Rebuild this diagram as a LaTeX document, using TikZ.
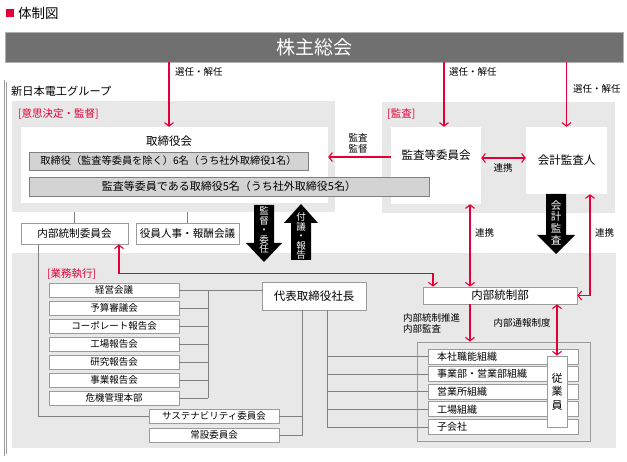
\documentclass[tikz,border=0pt]{standalone}
\usepackage{fontspec}
\setmainfont{Noto Sans CJK JP}
\usetikzlibrary{arrows.meta}

\definecolor{jred}{RGB}{228,0,55}
\definecolor{panelgray}{RGB}{232,232,232}
\definecolor{boxgray}{RGB}{211,211,211}
\definecolor{linegray}{RGB}{128,128,128}
\definecolor{framegray}{RGB}{155,155,155}
\definecolor{bargray}{RGB}{112,112,112}

\tikzset{
  panel/.style={fill=panelgray, inner sep=0pt},
  innerbox/.style={fill=white, inner sep=0pt},
  whitebox/.style={draw=framegray, fill=white, line width=0.8pt, inner sep=0pt},
  graybox/.style={draw=linegray, fill=boxgray, line width=0.8pt, inner sep=0pt, font=\fontsize{10.2}{12}\selectfont},
  itembox/.style={minimum width=130pt, minimum height=14pt, font=\fontsize{9.5}{11}\selectfont},
  orgbox/.style={minimum height=15pt, text width=132pt, align=left, inner xsep=9pt, inner ysep=0pt, font=\fontsize{10}{12}\selectfont},
  conn/.style={draw=linegray, line width=0.7pt},
  redarr/.style={draw=jred, line width=1.1pt, -{Straight Barb[length=3.5pt,width=9pt]}},
  redboth/.style={draw=jred, line width=1.1pt, {Straight Barb[length=3.5pt,width=9pt]}-{Straight Barb[length=3.5pt,width=9pt]}},
  redtext/.style={text=jred, font=\fontsize{10.5}{12}\selectfont, inner sep=0pt, anchor=west},
  lbl/.style={font=\fontsize{9.5}{11}\selectfont, inner sep=0pt},
  boxtext/.style={font=\fontsize{11.5}{13}\selectfont},
  vtext/.style={text=white, align=center, inner sep=0pt, font=\fontsize{9.5}{9.5}\selectfont},
}

\begin{document}
\begin{tikzpicture}[x=1pt, y=-1pt]
    \useasboundingbox (0,0) rectangle (627,462);

    % Title
    \fill[jred] (6,9) rectangle (14,17);
    \node[anchor=west, inner sep=0pt, font=\fontsize{13.5}{15}\selectfont] (title) at (18,13) {体制図};

    % Shareholders bar
    \node[fill=bargray, draw=gray!60, line width=0.8pt, minimum width=618pt, minimum height=30pt,
          inner sep=0pt, text=white, font=\fontsize{19}{21}\selectfont] (gm) at (314,47) {株主総会};

    % Group frame
    \draw[framegray, line width=0.6pt, double=white, double distance=1.6pt]
        (5.5,81) -- (507,81) -- (507,249) -- (622,249) -- (622,455) -- (5.5,455) -- cycle;
    \node[anchor=west, inner sep=0pt, font=\fontsize{11.2}{13}\selectfont] (group) at (11,91) {新日本電工グループ};

    % Panels
    \node[panel, minimum width=323pt, minimum height=111pt] (dec) at (173.5,156.5) {};
    \node[panel, minimum width=233pt, minimum height=111pt] (audpanel) at (498.5,157.5) {};
    \node[panel, minimum width=604pt, minimum height=195pt] (exec) at (314,350.5) {};
    \node[redtext] (declbl) at (18,114) {[意思決定・監督]};
    \node[redtext] (audlbl) at (387,114) {[監査]};
    \node[redtext] (execlbl) at (47,274) {[業務執行]};

    % Board of directors
    \node[innerbox, minimum width=307pt, minimum height=76pt] (board) at (174.5,165) {};
    \node[boxtext, inner sep=0pt] (bdtitle) at (169,141) {取締役会};
    \node[graybox, minimum width=279pt, minimum height=18pt] (dir1) at (168.5,161) {取締役（監査等委員を除く）6名（うち社外取締役1名）};

    % Audit side
    \node[innerbox, minimum width=90pt, minimum height=77pt] (ac) at (436,165.5) {};
    \node[boxtext, inner sep=0pt] (actext) at (436,155) {監査等委員会};
    \node[innerbox, boxtext, minimum width=81pt, minimum height=67pt] (aud) at (566.5,160.5) {会計監査人};
    \node[graybox, font=\fontsize{11}{12}\selectfont, minimum width=400pt, minimum height=19pt] (dir2) at (229,186.5) {監査等委員である取締役5名（うち社外取締役5名）};

    % Appointment arrows
    \coordinate (acin) at ([xshift=8pt]ac.north);
    \draw[redarr] (gm.south -| bdtitle) -- (board.north -| bdtitle);
    \draw[redarr] (acin |- gm.south) -- (acin);
    \draw[redarr] (aud.north |- gm.south) -- (aud.north);
    \node[lbl, anchor=west] (sel1) at (175,72) {選任・解任};
    \node[lbl, anchor=west] (sel2) at (449,72) {選任・解任};
    \node[lbl, anchor=west] (sel3) at (573,89) {選任・解任};

    % Audit arrows
    \coordinate (acw) at ([yshift=8.5pt]ac.west);
    \coordinate (ace) at ([yshift=7.5pt]ac.east);
    \draw[redarr] (acw) -- (acw -| board.east);
    \node[lbl, align=center] (supv) at (358,143) {監査\\監督};
    \draw[redboth] (ace) -- (ace -| aud.west);
    \node[lbl] (coop1) at (503,168) {連携};

    % Committees under the board
    \node[whitebox, minimum width=107pt, minimum height=21pt, font=\fontsize{10.6}{12}\selectfont] (icc) at (74.5,233.5) {内部統制委員会};
    \node[whitebox, minimum width=103pt, minimum height=21pt, font=\fontsize{10.6}{12}\selectfont] (rem) at (187.5,233.5) {役員人事・報酬会議};
    \draw[conn] (icc.north) -- (icc.north |- dec.south);
    \draw[conn] (rem.north) -- (rem.north |- dec.south);

    % Meetings
    \foreach \mtext [count=\i] in {経営会議, 予算審議会, コーポレート報告会, 工場報告会, 研究報告会, 事業報告会, 危機管理本部}
        \node[whitebox, itembox] (m\i) at (114,272+18*\i) {\mtext};
    \node[whitebox, boxtext, minimum width=104pt, minimum height=28pt, inner sep=0pt] (pres) at (314,296) {代表取締役社長};
    \coordinate (mbus) at (208,290);
    \foreach \i in {1,...,7}
        \draw[conn] (m\i.east) -- (m\i.east -| mbus);
    \draw[conn] (m1.east -| mbus) -- (m7.east -| mbus);
    \draw[conn] (mbus) -- (mbus -| pres.west);

    % Standing committees
    \node[whitebox, itembox] (sus) at (214,416) {サステナビリティ委員会};
    \node[whitebox, itembox] (std) at (214,435) {常設委員会};
    \coordinate (iccl) at ([xshift=-36.5pt]icc.south);
    \coordinate (pbus) at ([xshift=-12pt]pres.south);
    \draw[conn] (iccl) |- (sus.west);
    \draw[conn] (pbus) |- (std.east);
    \draw[conn] (sus.east) -- (sus.east -| pbus);

    % Organisations
    \node[draw=framegray, fill=panelgray, line width=0.8pt, minimum width=173pt, minimum height=99pt, inner sep=0pt] (orgs) at (503.5,391.5) {};
    \foreach \mtext [count=\i] in {本社職能組織, 事業部・営業部組織, 営業所組織, 工場組織, 子会社}
        \node[whitebox, orgbox] (o\i) at (503,338.9+17.6*\i) {\mtext};
    \node[whitebox, minimum width=20pt, minimum height=71pt, align=center, font=\fontsize{11}{13.5}\selectfont] (emp) at (557,391.5) {従\\業\\員};
    \coordinate (obus) at ([xshift=13pt]pres.south);
    \draw[conn] (obus) |- (o5.west);
    \foreach \i in {1,...,4}
        \draw[conn] (o\i.west) -- (o\i.west -| obus);

    % Internal control department
    \node[whitebox, boxtext, minimum width=154pt, minimum height=17pt] (icd) at (500,295.5) {内部統制部};
    \coordinate (icdt) at ([xshift=-30pt]icd.north);
    \coordinate (icdb) at ([xshift=-30pt]icd.south);
    \coordinate (icdl) at ([xshift=-67pt]icd.north);
    \coordinate (iccr) at ([xshift=44.5pt]icc.south);
    \coordinate (audr) at ([xshift=23.5pt]aud.south);
    \draw[redboth] (iccr) -- ++(0,29) -| (icdl);
    \draw[redboth] (icdt |- ac.south) -- (icdt);
    \node[lbl, anchor=west] (coop2) at (475,233) {連携};
    \draw[redboth] (audr) |- (icd.east);
    \node[lbl, anchor=west] (coop3) at (595,233) {連携};
    \draw[redarr] (icdb) -- (icdb |- orgs.north);
    \node[lbl, align=left, anchor=west] (promo) at (403,323.5) {内部統制推進\\内部監査};
    \draw[redboth] (emp.north |- icd.south) -- (emp.north);
    \node[lbl] (whistle) at (522,323) {内部通報制度};

    % Block arrows
    \fill (254,205) -- (274,205) -- (274,243) -- (282,243) -- (264,262) -- (246,243) -- (254,243) -- cycle;
    \node[vtext] (delegate) at (264,230) {監\\督\\・\\委\\任};
    \fill (291,260) -- (311,260) -- (311,223) -- (318,223) -- (301,204) -- (284,223) -- (291,223) -- cycle;
    \node[vtext] (report) at (301,236) {付\\議\\・\\報\\告};
    \fill (546,194) -- (566,194) -- (566,235) -- (575,235) -- (556,254) -- (537,235) -- (546,235) -- cycle;
    \node[vtext, font=\fontsize{10.5}{11.7}\selectfont] (acct) at (556,222.5) {会\\計\\監\\査};
\end{tikzpicture}
\end{document}
